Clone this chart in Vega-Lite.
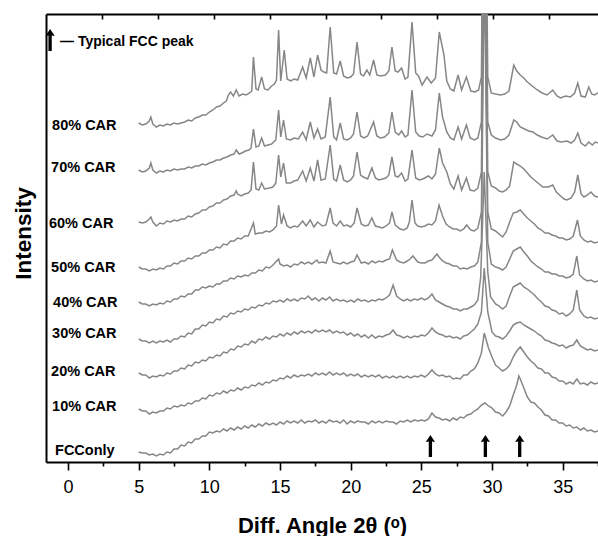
{
"$schema":"https://vega.github.io/schema/vega-lite/v6.json",
"width":552,"height":448,
"autosize":{"type":"none"},
"padding":{"left":46,"top":14,"right":0,"bottom":74},
"background":"white",
"config":{"view":{"stroke":null},"font":"Liberation Sans"},
"datasets":{
"traces":[
{"s":"F","x":5,"y":10},{"s":"F","x":5.25,"y":9},{"s":"F","x":5.5,"y":9},{"s":"F","x":5.75,"y":7},{"s":"F","x":6,"y":8},{"s":"F","x":6.25,"y":6},{"s":"F","x":6.5,"y":8},{"s":"F","x":6.75,"y":7},{"s":"F","x":7,"y":10},{"s":"F","x":7.25,"y":9},{"s":"F","x":7.5,"y":13},{"s":"F","x":7.75,"y":13},{"s":"F","x":8,"y":17},{"s":"F","x":8.25,"y":16},{"s":"F","x":8.5,"y":20},{"s":"F","x":8.75,"y":19},{"s":"F","x":9,"y":23},{"s":"F","x":9.25,"y":23},{"s":"F","x":9.5,"y":26},{"s":"F","x":9.75,"y":26},{"s":"F","x":10,"y":30},{"s":"F","x":10.25,"y":29},{"s":"F","x":10.5,"y":31},{"s":"F","x":10.75,"y":30},{"s":"F","x":11,"y":33},{"s":"F","x":11.25,"y":31},{"s":"F","x":11.5,"y":34},{"s":"F","x":11.75,"y":32},{"s":"F","x":12,"y":35},{"s":"F","x":12.25,"y":33},{"s":"F","x":12.5,"y":36},{"s":"F","x":12.75,"y":34},{"s":"F","x":13,"y":37},{"s":"F","x":13.25,"y":35},{"s":"F","x":13.5,"y":38},{"s":"F","x":13.75,"y":36},{"s":"F","x":14,"y":39},{"s":"F","x":14.25,"y":37},{"s":"F","x":14.5,"y":39},{"s":"F","x":14.75,"y":37},{"s":"F","x":15,"y":40},{"s":"F","x":15.25,"y":38},{"s":"F","x":15.5,"y":41},{"s":"F","x":15.75,"y":39},{"s":"F","x":16,"y":41},{"s":"F","x":16.25,"y":39},{"s":"F","x":16.5,"y":42},{"s":"F","x":16.75,"y":39},{"s":"F","x":17,"y":41},{"s":"F","x":17.25,"y":40},{"s":"F","x":17.5,"y":42},{"s":"F","x":17.75,"y":39},{"s":"F","x":18,"y":41},{"s":"F","x":18.25,"y":39},{"s":"F","x":18.5,"y":42},{"s":"F","x":18.75,"y":40},{"s":"F","x":19,"y":41},{"s":"F","x":19.25,"y":39},{"s":"F","x":19.5,"y":42},{"s":"F","x":19.75,"y":38},{"s":"F","x":20,"y":41},{"s":"F","x":20.25,"y":39},{"s":"F","x":20.5,"y":41},{"s":"F","x":20.75,"y":40},{"s":"F","x":21,"y":40},{"s":"F","x":21.25,"y":38},{"s":"F","x":21.5,"y":41},{"s":"F","x":21.75,"y":39},{"s":"F","x":22,"y":41},{"s":"F","x":22.25,"y":39},{"s":"F","x":22.5,"y":41},{"s":"F","x":22.75,"y":40},{"s":"F","x":23,"y":40},{"s":"F","x":23.25,"y":38},{"s":"F","x":23.5,"y":41},{"s":"F","x":23.75,"y":40},{"s":"F","x":24,"y":42},{"s":"F","x":24.25,"y":40},{"s":"F","x":24.5,"y":42},{"s":"F","x":24.75,"y":41},{"s":"F","x":25,"y":42},{"s":"F","x":25.25,"y":41},{"s":"F","x":25.5,"y":43},{"s":"F","x":25.75,"y":49},{"s":"F","x":26,"y":45},{"s":"F","x":26.25,"y":44},{"s":"F","x":26.5,"y":42},{"s":"F","x":26.75,"y":43},{"s":"F","x":27,"y":41},{"s":"F","x":27.25,"y":44},{"s":"F","x":27.5,"y":42},{"s":"F","x":27.75,"y":45},{"s":"F","x":28,"y":44},{"s":"F","x":28.25,"y":47},{"s":"F","x":28.5,"y":48},{"s":"F","x":28.75,"y":51},{"s":"F","x":29,"y":53},{"s":"F","x":29.25,"y":57},{"s":"F","x":29.5,"y":59},{"s":"F","x":29.75,"y":56},{"s":"F","x":30,"y":54},{"s":"F","x":30.25,"y":50},{"s":"F","x":30.5,"y":49},{"s":"F","x":30.75,"y":46},{"s":"F","x":31,"y":50},{"s":"F","x":31.25,"y":56},{"s":"F","x":31.5,"y":67},{"s":"F","x":31.75,"y":77},{"s":"F","x":31.9,"y":86},{"s":"F","x":32,"y":83},{"s":"F","x":32.25,"y":74},{"s":"F","x":32.5,"y":65},{"s":"F","x":32.75,"y":60},{"s":"F","x":33,"y":59},{"s":"F","x":33.25,"y":55},{"s":"F","x":33.5,"y":52},{"s":"F","x":33.75,"y":47},{"s":"F","x":34,"y":46},{"s":"F","x":34.25,"y":42},{"s":"F","x":34.5,"y":42},{"s":"F","x":34.75,"y":39},{"s":"F","x":35,"y":39},{"s":"F","x":35.25,"y":36},{"s":"F","x":35.5,"y":37},{"s":"F","x":35.75,"y":34},{"s":"F","x":36,"y":35},{"s":"F","x":36.25,"y":32},{"s":"F","x":36.5,"y":34},{"s":"F","x":36.75,"y":31},{"s":"F","x":37,"y":32},{"s":"F","x":37.25,"y":30},{"s":"F","x":37.5,"y":31},

{"s":"10","x":5,"y":53},{"s":"10","x":5.25,"y":51},{"s":"10","x":5.5,"y":51},{"s":"10","x":5.75,"y":48},{"s":"10","x":6,"y":50},{"s":"10","x":6.25,"y":49},{"s":"10","x":6.5,"y":51},{"s":"10","x":6.75,"y":51},{"s":"10","x":7,"y":54},{"s":"10","x":7.25,"y":53},{"s":"10","x":7.5,"y":56},{"s":"10","x":7.75,"y":55},{"s":"10","x":8,"y":57},{"s":"10","x":8.25,"y":56},{"s":"10","x":8.5,"y":59},{"s":"10","x":8.75,"y":58},{"s":"10","x":9,"y":61},{"s":"10","x":9.25,"y":61},{"s":"10","x":9.5,"y":64},{"s":"10","x":9.75,"y":63},{"s":"10","x":10,"y":67},{"s":"10","x":10.25,"y":66},{"s":"10","x":10.5,"y":69},{"s":"10","x":10.75,"y":68},{"s":"10","x":11,"y":71},{"s":"10","x":11.25,"y":69},{"s":"10","x":11.5,"y":72},{"s":"10","x":11.75,"y":71},{"s":"10","x":12,"y":74},{"s":"10","x":12.25,"y":72},{"s":"10","x":12.5,"y":75},{"s":"10","x":12.75,"y":74},{"s":"10","x":13,"y":77},{"s":"10","x":13.25,"y":76},{"s":"10","x":13.5,"y":79},{"s":"10","x":13.75,"y":77},{"s":"10","x":14,"y":80},{"s":"10","x":14.25,"y":79},{"s":"10","x":14.5,"y":82},{"s":"10","x":14.75,"y":81},{"s":"10","x":15,"y":84},{"s":"10","x":15.25,"y":83},{"s":"10","x":15.5,"y":86},{"s":"10","x":15.75,"y":84},{"s":"10","x":16,"y":87},{"s":"10","x":16.25,"y":85},{"s":"10","x":16.5,"y":87},{"s":"10","x":16.75,"y":86},{"s":"10","x":17,"y":88},{"s":"10","x":17.25,"y":86},{"s":"10","x":17.5,"y":89},{"s":"10","x":17.75,"y":87},{"s":"10","x":18,"y":89},{"s":"10","x":18.25,"y":87},{"s":"10","x":18.5,"y":90},{"s":"10","x":18.75,"y":87},{"s":"10","x":19,"y":89},{"s":"10","x":19.25,"y":87},{"s":"10","x":19.5,"y":89},{"s":"10","x":19.75,"y":86},{"s":"10","x":20,"y":88},{"s":"10","x":20.25,"y":86},{"s":"10","x":20.5,"y":88},{"s":"10","x":20.75,"y":85},{"s":"10","x":21,"y":87},{"s":"10","x":21.25,"y":85},{"s":"10","x":21.5,"y":87},{"s":"10","x":21.75,"y":85},{"s":"10","x":22,"y":87},{"s":"10","x":22.25,"y":84},{"s":"10","x":22.5,"y":86},{"s":"10","x":22.75,"y":84},{"s":"10","x":23,"y":86},{"s":"10","x":23.25,"y":84},{"s":"10","x":23.5,"y":86},{"s":"10","x":23.75,"y":84},{"s":"10","x":24,"y":86},{"s":"10","x":24.25,"y":84},{"s":"10","x":24.5,"y":86},{"s":"10","x":24.75,"y":85},{"s":"10","x":25,"y":87},{"s":"10","x":25.25,"y":85},{"s":"10","x":25.5,"y":88},{"s":"10","x":25.75,"y":92},{"s":"10","x":26,"y":88},{"s":"10","x":26.25,"y":86},{"s":"10","x":26.5,"y":87},{"s":"10","x":26.75,"y":85},{"s":"10","x":27,"y":86},{"s":"10","x":27.25,"y":83},{"s":"10","x":27.5,"y":84},{"s":"10","x":27.75,"y":83},{"s":"10","x":28,"y":87},{"s":"10","x":28.25,"y":87},{"s":"10","x":28.5,"y":91},{"s":"10","x":28.75,"y":93},{"s":"10","x":29,"y":99},{"s":"10","x":29.25,"y":109},{"s":"10","x":29.45,"y":129},{"s":"10","x":29.75,"y":114},{"s":"10","x":30,"y":105},{"s":"10","x":30.25,"y":97},{"s":"10","x":30.5,"y":94},{"s":"10","x":30.75,"y":91},{"s":"10","x":31,"y":93},{"s":"10","x":31.25,"y":97},{"s":"10","x":31.5,"y":105},{"s":"10","x":31.75,"y":111},{"s":"10","x":32,"y":115},{"s":"10","x":32.25,"y":110},{"s":"10","x":32.5,"y":105},{"s":"10","x":32.75,"y":101},{"s":"10","x":33,"y":98},{"s":"10","x":33.25,"y":94},{"s":"10","x":33.5,"y":93},{"s":"10","x":33.75,"y":89},{"s":"10","x":34,"y":89},{"s":"10","x":34.25,"y":85},{"s":"10","x":34.5,"y":84},{"s":"10","x":34.75,"y":81},{"s":"10","x":35,"y":81},{"s":"10","x":35.25,"y":78},{"s":"10","x":35.5,"y":80},{"s":"10","x":35.75,"y":78},{"s":"10","x":36,"y":83},{"s":"10","x":36.25,"y":78},{"s":"10","x":36.5,"y":79},{"s":"10","x":36.75,"y":77},{"s":"10","x":37,"y":80},{"s":"10","x":37.25,"y":78},{"s":"10","x":37.5,"y":79},

{"s":"20","x":5,"y":89},{"s":"20","x":5.25,"y":87},{"s":"20","x":5.5,"y":87},{"s":"20","x":5.75,"y":84},{"s":"20","x":6,"y":86},{"s":"20","x":6.25,"y":85},{"s":"20","x":6.5,"y":87},{"s":"20","x":6.75,"y":86},{"s":"20","x":7,"y":89},{"s":"20","x":7.25,"y":88},{"s":"20","x":7.5,"y":91},{"s":"20","x":7.75,"y":91},{"s":"20","x":8,"y":94},{"s":"20","x":8.25,"y":93},{"s":"20","x":8.5,"y":97},{"s":"20","x":8.75,"y":96},{"s":"20","x":9,"y":100},{"s":"20","x":9.25,"y":99},{"s":"20","x":9.5,"y":102},{"s":"20","x":9.75,"y":101},{"s":"20","x":10,"y":105},{"s":"20","x":10.25,"y":104},{"s":"20","x":10.5,"y":107},{"s":"20","x":10.75,"y":106},{"s":"20","x":11,"y":110},{"s":"20","x":11.25,"y":109},{"s":"20","x":11.5,"y":113},{"s":"20","x":11.75,"y":112},{"s":"20","x":12,"y":116},{"s":"20","x":12.25,"y":115},{"s":"20","x":12.5,"y":118},{"s":"20","x":12.75,"y":117},{"s":"20","x":13,"y":121},{"s":"20","x":13.25,"y":119},{"s":"20","x":13.5,"y":123},{"s":"20","x":13.75,"y":122},{"s":"20","x":14,"y":125},{"s":"20","x":14.25,"y":123},{"s":"20","x":14.5,"y":126},{"s":"20","x":14.75,"y":125},{"s":"20","x":15,"y":128},{"s":"20","x":15.25,"y":126},{"s":"20","x":15.5,"y":129},{"s":"20","x":15.75,"y":127},{"s":"20","x":16,"y":130},{"s":"20","x":16.25,"y":128},{"s":"20","x":16.5,"y":131},{"s":"20","x":16.75,"y":129},{"s":"20","x":17,"y":131},{"s":"20","x":17.25,"y":129},{"s":"20","x":17.5,"y":132},{"s":"20","x":17.75,"y":130},{"s":"20","x":18,"y":132},{"s":"20","x":18.25,"y":130},{"s":"20","x":18.5,"y":132},{"s":"20","x":18.75,"y":129},{"s":"20","x":19,"y":131},{"s":"20","x":19.25,"y":129},{"s":"20","x":19.5,"y":130},{"s":"20","x":19.75,"y":127},{"s":"20","x":20,"y":129},{"s":"20","x":20.25,"y":126},{"s":"20","x":20.5,"y":128},{"s":"20","x":20.75,"y":125},{"s":"20","x":21,"y":127},{"s":"20","x":21.25,"y":124},{"s":"20","x":21.5,"y":127},{"s":"20","x":21.75,"y":124},{"s":"20","x":22,"y":126},{"s":"20","x":22.25,"y":125},{"s":"20","x":22.5,"y":127},{"s":"20","x":22.75,"y":128},{"s":"20","x":23,"y":132},{"s":"20","x":23.25,"y":127},{"s":"20","x":23.5,"y":126},{"s":"20","x":23.75,"y":124},{"s":"20","x":24,"y":126},{"s":"20","x":24.25,"y":124},{"s":"20","x":24.5,"y":126},{"s":"20","x":24.75,"y":125},{"s":"20","x":25,"y":127},{"s":"20","x":25.25,"y":126},{"s":"20","x":25.5,"y":129},{"s":"20","x":25.75,"y":134},{"s":"20","x":26,"y":130},{"s":"20","x":26.25,"y":128},{"s":"20","x":26.5,"y":127},{"s":"20","x":26.75,"y":125},{"s":"20","x":27,"y":126},{"s":"20","x":27.25,"y":124},{"s":"20","x":27.5,"y":125},{"s":"20","x":27.75,"y":123},{"s":"20","x":28,"y":126},{"s":"20","x":28.25,"y":127},{"s":"20","x":28.5,"y":130},{"s":"20","x":28.75,"y":133},{"s":"20","x":29,"y":138},{"s":"20","x":29.25,"y":150},{"s":"20","x":29.45,"y":194},{"s":"20","x":29.7,"y":150},{"s":"20","x":30,"y":130},{"s":"20","x":30.25,"y":126},{"s":"20","x":30.5,"y":125},{"s":"20","x":30.75,"y":123},{"s":"20","x":31,"y":126},{"s":"20","x":31.25,"y":131},{"s":"20","x":31.5,"y":137},{"s":"20","x":31.75,"y":139},{"s":"20","x":32,"y":140},{"s":"20","x":32.25,"y":137},{"s":"20","x":32.5,"y":135},{"s":"20","x":32.75,"y":133},{"s":"20","x":33,"y":131},{"s":"20","x":33.25,"y":128},{"s":"20","x":33.5,"y":126},{"s":"20","x":33.75,"y":122},{"s":"20","x":34,"y":121},{"s":"20","x":34.25,"y":119},{"s":"20","x":34.5,"y":118},{"s":"20","x":34.75,"y":116},{"s":"20","x":35,"y":117},{"s":"20","x":35.25,"y":114},{"s":"20","x":35.5,"y":116},{"s":"20","x":35.75,"y":117},{"s":"20","x":36,"y":122},{"s":"20","x":36.25,"y":116},{"s":"20","x":36.5,"y":114},{"s":"20","x":36.75,"y":112},{"s":"20","x":37,"y":113},{"s":"20","x":37.25,"y":111},{"s":"20","x":37.5,"y":112},

{"s":"30","x":5,"y":123},{"s":"30","x":5.25,"y":121},{"s":"30","x":5.5,"y":121},{"s":"30","x":5.75,"y":119},{"s":"30","x":6,"y":121},{"s":"30","x":6.25,"y":119},{"s":"30","x":6.5,"y":121},{"s":"30","x":6.75,"y":120},{"s":"30","x":7,"y":122},{"s":"30","x":7.25,"y":120},{"s":"30","x":7.5,"y":123},{"s":"30","x":7.75,"y":123},{"s":"30","x":8,"y":126},{"s":"30","x":8.25,"y":125},{"s":"30","x":8.5,"y":129},{"s":"30","x":8.75,"y":128},{"s":"30","x":9,"y":133},{"s":"30","x":9.25,"y":133},{"s":"30","x":9.5,"y":137},{"s":"30","x":9.75,"y":136},{"s":"30","x":10,"y":140},{"s":"30","x":10.25,"y":139},{"s":"30","x":10.5,"y":143},{"s":"30","x":10.75,"y":142},{"s":"30","x":11,"y":146},{"s":"30","x":11.25,"y":145},{"s":"30","x":11.5,"y":149},{"s":"30","x":11.75,"y":148},{"s":"30","x":12,"y":151},{"s":"30","x":12.25,"y":150},{"s":"30","x":12.5,"y":153},{"s":"30","x":12.75,"y":152},{"s":"30","x":13,"y":155},{"s":"30","x":13.25,"y":154},{"s":"30","x":13.5,"y":157},{"s":"30","x":13.75,"y":156},{"s":"30","x":14,"y":159},{"s":"30","x":14.25,"y":158},{"s":"30","x":14.5,"y":161},{"s":"30","x":14.75,"y":160},{"s":"30","x":15,"y":162},{"s":"30","x":15.25,"y":160},{"s":"30","x":15.5,"y":163},{"s":"30","x":15.75,"y":161},{"s":"30","x":16,"y":163},{"s":"30","x":16.25,"y":161},{"s":"30","x":16.5,"y":164},{"s":"30","x":16.75,"y":163},{"s":"30","x":17,"y":166},{"s":"30","x":17.25,"y":162},{"s":"30","x":17.5,"y":164},{"s":"30","x":17.75,"y":161},{"s":"30","x":18,"y":164},{"s":"30","x":18.25,"y":162},{"s":"30","x":18.5,"y":165},{"s":"30","x":18.75,"y":161},{"s":"30","x":19,"y":163},{"s":"30","x":19.25,"y":161},{"s":"30","x":19.5,"y":162},{"s":"30","x":19.75,"y":160},{"s":"30","x":20,"y":162},{"s":"30","x":20.25,"y":160},{"s":"30","x":20.5,"y":163},{"s":"30","x":20.75,"y":161},{"s":"30","x":21,"y":162},{"s":"30","x":21.25,"y":160},{"s":"30","x":21.5,"y":162},{"s":"30","x":21.75,"y":161},{"s":"30","x":22,"y":163},{"s":"30","x":22.25,"y":162},{"s":"30","x":22.5,"y":164},{"s":"30","x":22.75,"y":167},{"s":"30","x":23,"y":177},{"s":"30","x":23.25,"y":166},{"s":"30","x":23.5,"y":163},{"s":"30","x":23.75,"y":161},{"s":"30","x":24,"y":163},{"s":"30","x":24.25,"y":161},{"s":"30","x":24.5,"y":163},{"s":"30","x":24.75,"y":162},{"s":"30","x":25,"y":164},{"s":"30","x":25.25,"y":162},{"s":"30","x":25.5,"y":164},{"s":"30","x":25.75,"y":168},{"s":"30","x":26,"y":162},{"s":"30","x":26.25,"y":160},{"s":"30","x":26.5,"y":158},{"s":"30","x":26.75,"y":156},{"s":"30","x":27,"y":155},{"s":"30","x":27.25,"y":153},{"s":"30","x":27.5,"y":153},{"s":"30","x":27.75,"y":151},{"s":"30","x":28,"y":153},{"s":"30","x":28.25,"y":153},{"s":"30","x":28.5,"y":155},{"s":"30","x":28.75,"y":157},{"s":"30","x":29,"y":162},{"s":"30","x":29.2,"y":185},{"s":"30","x":29.45,"y":290},{"s":"30","x":29.7,"y":190},{"s":"30","x":29.9,"y":165},{"s":"30","x":30.25,"y":158},{"s":"30","x":30.5,"y":156},{"s":"30","x":30.75,"y":153},{"s":"30","x":31,"y":156},{"s":"30","x":31.25,"y":166},{"s":"30","x":31.5,"y":175},{"s":"30","x":31.75,"y":177},{"s":"30","x":32,"y":179},{"s":"30","x":32.25,"y":175},{"s":"30","x":32.5,"y":173},{"s":"30","x":32.75,"y":170},{"s":"30","x":33,"y":167},{"s":"30","x":33.25,"y":163},{"s":"30","x":33.5,"y":160},{"s":"30","x":33.75,"y":156},{"s":"30","x":34,"y":155},{"s":"30","x":34.25,"y":152},{"s":"30","x":34.5,"y":151},{"s":"30","x":34.75,"y":148},{"s":"30","x":35,"y":149},{"s":"30","x":35.25,"y":146},{"s":"30","x":35.5,"y":148},{"s":"30","x":35.75,"y":152},{"s":"30","x":36,"y":172},{"s":"30","x":36.2,"y":152},{"s":"30","x":36.5,"y":146},{"s":"30","x":36.75,"y":144},{"s":"30","x":37,"y":145},{"s":"30","x":37.25,"y":143},{"s":"30","x":37.5,"y":144},

{"s":"40","x":5,"y":160},{"s":"40","x":5.25,"y":158},{"s":"40","x":5.5,"y":158},{"s":"40","x":5.75,"y":156},{"s":"40","x":6,"y":158},{"s":"40","x":6.25,"y":157},{"s":"40","x":6.5,"y":159},{"s":"40","x":6.75,"y":158},{"s":"40","x":7,"y":161},{"s":"40","x":7.25,"y":160},{"s":"40","x":7.5,"y":163},{"s":"40","x":7.75,"y":163},{"s":"40","x":8,"y":166},{"s":"40","x":8.25,"y":165},{"s":"40","x":8.5,"y":168},{"s":"40","x":8.75,"y":168},{"s":"40","x":9,"y":172},{"s":"40","x":9.25,"y":172},{"s":"40","x":9.5,"y":175},{"s":"40","x":9.75,"y":174},{"s":"40","x":10,"y":176},{"s":"40","x":10.25,"y":175},{"s":"40","x":10.5,"y":178},{"s":"40","x":10.75,"y":178},{"s":"40","x":11,"y":181},{"s":"40","x":11.25,"y":181},{"s":"40","x":11.5,"y":184},{"s":"40","x":11.75,"y":183},{"s":"40","x":12,"y":186},{"s":"40","x":12.25,"y":185},{"s":"40","x":12.5,"y":187},{"s":"40","x":12.75,"y":186},{"s":"40","x":13,"y":189},{"s":"40","x":13.25,"y":189},{"s":"40","x":13.5,"y":192},{"s":"40","x":13.75,"y":191},{"s":"40","x":14,"y":195},{"s":"40","x":14.25,"y":194},{"s":"40","x":14.5,"y":197},{"s":"40","x":14.9,"y":203},{"s":"40","x":15,"y":198},{"s":"40","x":15.25,"y":196},{"s":"40","x":15.5,"y":197},{"s":"40","x":15.75,"y":195},{"s":"40","x":16,"y":198},{"s":"40","x":16.25,"y":197},{"s":"40","x":16.5,"y":200},{"s":"40","x":16.75,"y":198},{"s":"40","x":17,"y":200},{"s":"40","x":17.25,"y":198},{"s":"40","x":17.6,"y":202},{"s":"40","x":17.75,"y":199},{"s":"40","x":18,"y":200},{"s":"40","x":18.25,"y":199},{"s":"40","x":18.55,"y":211},{"s":"40","x":18.75,"y":200},{"s":"40","x":19,"y":199},{"s":"40","x":19.25,"y":198},{"s":"40","x":19.5,"y":200},{"s":"40","x":19.75,"y":198},{"s":"40","x":20,"y":200},{"s":"40","x":20.25,"y":201},{"s":"40","x":20.45,"y":207},{"s":"40","x":20.75,"y":199},{"s":"40","x":21,"y":200},{"s":"40","x":21.25,"y":198},{"s":"40","x":21.5,"y":201},{"s":"40","x":21.75,"y":199},{"s":"40","x":22,"y":201},{"s":"40","x":22.25,"y":200},{"s":"40","x":22.5,"y":202},{"s":"40","x":22.75,"y":203},{"s":"40","x":22.95,"y":212},{"s":"40","x":23.25,"y":202},{"s":"40","x":23.5,"y":200},{"s":"40","x":23.75,"y":199},{"s":"40","x":24,"y":201},{"s":"40","x":24.2,"y":203},{"s":"40","x":24.4,"y":206},{"s":"40","x":24.75,"y":200},{"s":"40","x":25,"y":199},{"s":"40","x":25.25,"y":199},{"s":"40","x":25.5,"y":201},{"s":"40","x":25.75,"y":202},{"s":"40","x":26.1,"y":208},{"s":"40","x":26.25,"y":205},{"s":"40","x":26.5,"y":201},{"s":"40","x":26.75,"y":199},{"s":"40","x":27,"y":198},{"s":"40","x":27.25,"y":196},{"s":"40","x":27.5,"y":196},{"s":"40","x":27.75,"y":193},{"s":"40","x":28,"y":194},{"s":"40","x":28.25,"y":193},{"s":"40","x":28.5,"y":195},{"s":"40","x":28.75,"y":196},{"s":"40","x":29,"y":200},{"s":"40","x":29.25,"y":220},{"s":"40","x":29.45,"y":500},{"s":"40","x":29.7,"y":220},{"s":"40","x":29.95,"y":198},{"s":"40","x":30.25,"y":195},{"s":"40","x":30.5,"y":194},{"s":"40","x":30.75,"y":192},{"s":"40","x":31,"y":195},{"s":"40","x":31.25,"y":203},{"s":"40","x":31.5,"y":211},{"s":"40","x":31.75,"y":213},{"s":"40","x":32,"y":215},{"s":"40","x":32.25,"y":210},{"s":"40","x":32.5,"y":206},{"s":"40","x":32.75,"y":201},{"s":"40","x":33,"y":198},{"s":"40","x":33.25,"y":195},{"s":"40","x":33.5,"y":193},{"s":"40","x":33.75,"y":190},{"s":"40","x":34,"y":190},{"s":"40","x":34.25,"y":188},{"s":"40","x":34.5,"y":188},{"s":"40","x":34.75,"y":186},{"s":"40","x":35,"y":186},{"s":"40","x":35.25,"y":184},{"s":"40","x":35.5,"y":185},{"s":"40","x":35.75,"y":188},{"s":"40","x":36,"y":206},{"s":"40","x":36.2,"y":187},{"s":"40","x":36.5,"y":183},{"s":"40","x":36.75,"y":181},{"s":"40","x":37,"y":182},{"s":"40","x":37.25,"y":180},{"s":"40","x":37.5,"y":181},

{"s":"50","x":5,"y":195},{"s":"50","x":5.25,"y":193},{"s":"50","x":5.5,"y":193},{"s":"50","x":5.75,"y":191},{"s":"50","x":6,"y":193},{"s":"50","x":6.25,"y":192},{"s":"50","x":6.5,"y":194},{"s":"50","x":6.75,"y":193},{"s":"50","x":7,"y":196},{"s":"50","x":7.25,"y":196},{"s":"50","x":7.5,"y":199},{"s":"50","x":7.75,"y":198},{"s":"50","x":8,"y":201},{"s":"50","x":8.25,"y":201},{"s":"50","x":8.5,"y":204},{"s":"50","x":8.75,"y":203},{"s":"50","x":9,"y":206},{"s":"50","x":9.25,"y":206},{"s":"50","x":9.5,"y":209},{"s":"50","x":9.75,"y":209},{"s":"50","x":10,"y":212},{"s":"50","x":10.25,"y":212},{"s":"50","x":10.5,"y":215},{"s":"50","x":10.75,"y":214},{"s":"50","x":11,"y":218},{"s":"50","x":11.25,"y":217},{"s":"50","x":11.5,"y":221},{"s":"50","x":11.75,"y":221},{"s":"50","x":12,"y":224},{"s":"50","x":12.25,"y":223},{"s":"50","x":12.5,"y":226},{"s":"50","x":12.75,"y":226},{"s":"50","x":13.12,"y":239},{"s":"50","x":13.25,"y":228},{"s":"50","x":13.5,"y":229},{"s":"50","x":13.75,"y":229},{"s":"50","x":14,"y":231},{"s":"50","x":14.25,"y":230},{"s":"50","x":14.5,"y":232},{"s":"50","x":14.75,"y":236},{"s":"50","x":14.9,"y":257},{"s":"50","x":15.1,"y":238},{"s":"50","x":15.25,"y":247},{"s":"50","x":15.5,"y":236},{"s":"50","x":15.75,"y":234},{"s":"50","x":16,"y":236},{"s":"50","x":16.25,"y":235},{"s":"50","x":16.6,"y":241},{"s":"50","x":16.85,"y":236},{"s":"50","x":17.14,"y":242},{"s":"50","x":17.4,"y":235},{"s":"50","x":17.66,"y":240},{"s":"50","x":18,"y":236},{"s":"50","x":18.25,"y":237},{"s":"50","x":18.55,"y":254},{"s":"50","x":18.75,"y":239},{"s":"50","x":19,"y":236},{"s":"50","x":19.26,"y":241},{"s":"50","x":19.5,"y":236},{"s":"50","x":19.75,"y":237},{"s":"50","x":20,"y":235},{"s":"50","x":20.25,"y":239},{"s":"50","x":20.45,"y":254},{"s":"50","x":20.75,"y":238},{"s":"50","x":21,"y":236},{"s":"50","x":21.25,"y":237},{"s":"50","x":21.5,"y":244},{"s":"50","x":21.75,"y":236},{"s":"50","x":22,"y":235},{"s":"50","x":22.25,"y":234},{"s":"50","x":22.5,"y":236},{"s":"50","x":22.75,"y":239},{"s":"50","x":22.92,"y":250},{"s":"50","x":23.15,"y":237},{"s":"50","x":23.5,"y":233},{"s":"50","x":23.75,"y":232},{"s":"50","x":24,"y":234},{"s":"50","x":24.15,"y":240},{"s":"50","x":24.34,"y":262},{"s":"50","x":24.55,"y":239},{"s":"50","x":24.75,"y":236},{"s":"50","x":25,"y":235},{"s":"50","x":25.25,"y":236},{"s":"50","x":25.5,"y":238},{"s":"50","x":25.75,"y":237},{"s":"50","x":26,"y":241},{"s":"50","x":26.25,"y":257},{"s":"50","x":26.5,"y":246},{"s":"50","x":26.75,"y":238},{"s":"50","x":27,"y":235},{"s":"50","x":27.25,"y":233},{"s":"50","x":27.5,"y":233},{"s":"50","x":27.75,"y":231},{"s":"50","x":28,"y":233},{"s":"50","x":28.2,"y":237},{"s":"50","x":28.5,"y":232},{"s":"50","x":28.75,"y":231},{"s":"50","x":29,"y":234},{"s":"50","x":29.25,"y":250},{"s":"50","x":29.45,"y":560},{"s":"50","x":29.7,"y":250},{"s":"50","x":29.95,"y":233},{"s":"50","x":30.25,"y":231},{"s":"50","x":30.5,"y":228},{"s":"50","x":30.75,"y":225},{"s":"50","x":31,"y":230},{"s":"50","x":31.25,"y":240},{"s":"50","x":31.5,"y":249},{"s":"50","x":31.75,"y":250},{"s":"50","x":32,"y":252},{"s":"50","x":32.25,"y":248},{"s":"50","x":32.5,"y":244},{"s":"50","x":32.75,"y":241},{"s":"50","x":33,"y":238},{"s":"50","x":33.25,"y":234},{"s":"50","x":33.5,"y":232},{"s":"50","x":33.75,"y":229},{"s":"50","x":34,"y":229},{"s":"50","x":34.25,"y":227},{"s":"50","x":34.5,"y":226},{"s":"50","x":34.75,"y":224},{"s":"50","x":35,"y":224},{"s":"50","x":35.25,"y":222},{"s":"50","x":35.5,"y":223},{"s":"50","x":35.75,"y":226},{"s":"50","x":36.05,"y":242},{"s":"50","x":36.25,"y":226},{"s":"50","x":36.5,"y":222},{"s":"50","x":36.75,"y":220},{"s":"50","x":37,"y":221},{"s":"50","x":37.25,"y":219},{"s":"50","x":37.5,"y":220},

{"s":"60","x":5,"y":240},{"s":"60","x":5.25,"y":239},{"s":"60","x":5.5,"y":240},{"s":"60","x":5.75,"y":243},{"s":"60","x":5.86,"y":245},{"s":"60","x":6,"y":240},{"s":"60","x":6.25,"y":236},{"s":"60","x":6.5,"y":239},{"s":"60","x":6.75,"y":238},{"s":"60","x":7,"y":241},{"s":"60","x":7.25,"y":240},{"s":"60","x":7.5,"y":242},{"s":"60","x":7.75,"y":241},{"s":"60","x":8,"y":243},{"s":"60","x":8.25,"y":243},{"s":"60","x":8.5,"y":246},{"s":"60","x":8.75,"y":245},{"s":"60","x":9,"y":248},{"s":"60","x":9.25,"y":249},{"s":"60","x":9.5,"y":252},{"s":"60","x":9.75,"y":252},{"s":"60","x":10,"y":255},{"s":"60","x":10.25,"y":256},{"s":"60","x":10.5,"y":259},{"s":"60","x":10.75,"y":259},{"s":"60","x":11,"y":262},{"s":"60","x":11.25,"y":263},{"s":"60","x":11.5,"y":266},{"s":"60","x":11.75,"y":267},{"s":"60","x":11.9,"y":271},{"s":"60","x":12,"y":268},{"s":"60","x":12.25,"y":266},{"s":"60","x":12.5,"y":268},{"s":"60","x":12.75,"y":269},{"s":"60","x":12.95,"y":272},{"s":"60","x":13.12,"y":300},{"s":"60","x":13.3,"y":273},{"s":"60","x":13.5,"y":272},{"s":"60","x":13.7,"y":279},{"s":"60","x":13.9,"y":273},{"s":"60","x":14.25,"y":274},{"s":"60","x":14.5,"y":275},{"s":"60","x":14.7,"y":279},{"s":"60","x":14.9,"y":307},{"s":"60","x":15.05,"y":285},{"s":"60","x":15.25,"y":299},{"s":"60","x":15.45,"y":279},{"s":"60","x":15.75,"y":279},{"s":"60","x":16,"y":281},{"s":"60","x":16.25,"y":282},{"s":"60","x":16.6,"y":291},{"s":"60","x":16.85,"y":281},{"s":"60","x":17.14,"y":294},{"s":"60","x":17.4,"y":281},{"s":"60","x":17.66,"y":302},{"s":"60","x":17.9,"y":282},{"s":"60","x":18.2,"y":283},{"s":"60","x":18.55,"y":317},{"s":"60","x":18.8,"y":283},{"s":"60","x":19,"y":281},{"s":"60","x":19.26,"y":297},{"s":"60","x":19.5,"y":282},{"s":"60","x":19.75,"y":280},{"s":"60","x":20,"y":282},{"s":"60","x":20.2,"y":286},{"s":"60","x":20.45,"y":310},{"s":"60","x":20.7,"y":287},{"s":"60","x":20.9,"y":285},{"s":"60","x":21.2,"y":283},{"s":"60","x":21.5,"y":294},{"s":"60","x":21.75,"y":284},{"s":"60","x":22,"y":282},{"s":"60","x":22.25,"y":283},{"s":"60","x":22.5,"y":284},{"s":"60","x":22.7,"y":287},{"s":"60","x":22.92,"y":305},{"s":"60","x":23.15,"y":286},{"s":"60","x":23.35,"y":285},{"s":"60","x":23.6,"y":289},{"s":"60","x":23.85,"y":281},{"s":"60","x":24.05,"y":283},{"s":"60","x":24.34,"y":312},{"s":"60","x":24.6,"y":284},{"s":"60","x":24.85,"y":282},{"s":"60","x":25.1,"y":283},{"s":"60","x":25.5,"y":286},{"s":"60","x":25.75,"y":283},{"s":"60","x":26,"y":288},{"s":"60","x":26.27,"y":314},{"s":"60","x":26.5,"y":299},{"s":"60","x":26.8,"y":290},{"s":"60","x":27.05,"y":278},{"s":"60","x":27.3,"y":273},{"s":"60","x":27.6,"y":286},{"s":"60","x":27.85,"y":272},{"s":"60","x":28.19,"y":284},{"s":"60","x":28.45,"y":272},{"s":"60","x":28.75,"y":271},{"s":"60","x":29,"y":274},{"s":"60","x":29.25,"y":290},{"s":"60","x":29.45,"y":620},{"s":"60","x":29.7,"y":290},{"s":"60","x":29.95,"y":276},{"s":"60","x":30.25,"y":274},{"s":"60","x":30.5,"y":271},{"s":"60","x":30.75,"y":270},{"s":"60","x":31,"y":272},{"s":"60","x":31.25,"y":276},{"s":"60","x":31.54,"y":300},{"s":"60","x":31.75,"y":298},{"s":"60","x":32,"y":296},{"s":"60","x":32.25,"y":293},{"s":"60","x":32.5,"y":289},{"s":"60","x":32.75,"y":285},{"s":"60","x":33,"y":282},{"s":"60","x":33.25,"y":279},{"s":"60","x":33.6,"y":275},{"s":"60","x":34,"y":275},{"s":"60","x":34.3,"y":277},{"s":"60","x":34.55,"y":270},{"s":"60","x":34.85,"y":266},{"s":"60","x":35.1,"y":263},{"s":"60","x":35.3,"y":262},{"s":"60","x":35.6,"y":264},{"s":"60","x":35.85,"y":270},{"s":"60","x":36.07,"y":287},{"s":"60","x":36.3,"y":268},{"s":"60","x":36.5,"y":265},{"s":"60","x":36.75,"y":267},{"s":"60","x":37,"y":270},{"s":"60","x":37.25,"y":266},{"s":"60","x":37.5,"y":265},

{"s":"70","x":5,"y":292},{"s":"70","x":5.25,"y":290},{"s":"70","x":5.5,"y":291},{"s":"70","x":5.75,"y":294},{"s":"70","x":5.86,"y":299},{"s":"70","x":6,"y":292},{"s":"70","x":6.25,"y":289},{"s":"70","x":6.5,"y":291},{"s":"70","x":6.75,"y":290},{"s":"70","x":7,"y":292},{"s":"70","x":7.25,"y":291},{"s":"70","x":7.5,"y":293},{"s":"70","x":7.75,"y":292},{"s":"70","x":8,"y":293},{"s":"70","x":8.25,"y":293},{"s":"70","x":8.5,"y":295},{"s":"70","x":8.75,"y":294},{"s":"70","x":9,"y":296},{"s":"70","x":9.25,"y":296},{"s":"70","x":9.5,"y":298},{"s":"70","x":9.75,"y":297},{"s":"70","x":10,"y":299},{"s":"70","x":10.25,"y":300},{"s":"70","x":10.5,"y":302},{"s":"70","x":10.75,"y":302},{"s":"70","x":11,"y":304},{"s":"70","x":11.25,"y":305},{"s":"70","x":11.5,"y":307},{"s":"70","x":11.75,"y":308},{"s":"70","x":11.9,"y":312},{"s":"70","x":12.1,"y":308},{"s":"70","x":12.3,"y":309},{"s":"70","x":12.55,"y":311},{"s":"70","x":12.8,"y":312},{"s":"70","x":12.95,"y":314},{"s":"70","x":13.12,"y":333},{"s":"70","x":13.3,"y":315},{"s":"70","x":13.5,"y":316},{"s":"70","x":13.7,"y":324},{"s":"70","x":13.9,"y":316},{"s":"70","x":14.15,"y":317},{"s":"70","x":14.4,"y":318},{"s":"70","x":14.7,"y":322},{"s":"70","x":14.9,"y":352},{"s":"70","x":15.05,"y":325},{"s":"70","x":15.25,"y":342},{"s":"70","x":15.45,"y":323},{"s":"70","x":15.75,"y":322},{"s":"70","x":16,"y":324},{"s":"70","x":16.3,"y":323},{"s":"70","x":16.6,"y":330},{"s":"70","x":16.85,"y":322},{"s":"70","x":17.14,"y":340},{"s":"70","x":17.4,"y":324},{"s":"70","x":17.66,"y":333},{"s":"70","x":17.9,"y":323},{"s":"70","x":18.2,"y":325},{"s":"70","x":18.55,"y":365},{"s":"70","x":18.8,"y":325},{"s":"70","x":19,"y":322},{"s":"70","x":19.26,"y":339},{"s":"70","x":19.5,"y":323},{"s":"70","x":19.75,"y":322},{"s":"70","x":20,"y":324},{"s":"70","x":20.2,"y":328},{"s":"70","x":20.45,"y":350},{"s":"70","x":20.7,"y":326},{"s":"70","x":20.95,"y":324},{"s":"70","x":21.2,"y":326},{"s":"70","x":21.62,"y":340},{"s":"70","x":21.85,"y":326},{"s":"70","x":22.1,"y":324},{"s":"70","x":22.4,"y":325},{"s":"70","x":22.7,"y":329},{"s":"70","x":22.92,"y":350},{"s":"70","x":23.15,"y":330},{"s":"70","x":23.4,"y":327},{"s":"70","x":23.6,"y":331},{"s":"70","x":23.85,"y":325},{"s":"70","x":24.05,"y":327},{"s":"70","x":24.34,"y":372},{"s":"70","x":24.6,"y":330},{"s":"70","x":24.85,"y":326},{"s":"70","x":25.1,"y":325},{"s":"70","x":25.4,"y":328},{"s":"70","x":25.75,"y":326},{"s":"70","x":26,"y":332},{"s":"70","x":26.27,"y":369},{"s":"70","x":26.5,"y":345},{"s":"70","x":26.8,"y":330},{"s":"70","x":27.05,"y":324},{"s":"70","x":27.3,"y":322},{"s":"70","x":27.6,"y":335},{"s":"70","x":27.85,"y":323},{"s":"70","x":28.19,"y":337},{"s":"70","x":28.45,"y":324},{"s":"70","x":28.75,"y":322},{"s":"70","x":29,"y":324},{"s":"70","x":29.25,"y":340},{"s":"70","x":29.45,"y":680},{"s":"70","x":29.7,"y":340},{"s":"70","x":29.95,"y":327},{"s":"70","x":30.25,"y":324},{"s":"70","x":30.6,"y":322},{"s":"70","x":30.9,"y":323},{"s":"70","x":31.2,"y":327},{"s":"70","x":31.54,"y":342},{"s":"70","x":31.75,"y":340},{"s":"70","x":32,"y":335},{"s":"70","x":32.3,"y":333},{"s":"70","x":32.6,"y":331},{"s":"70","x":32.9,"y":330},{"s":"70","x":33.2,"y":327},{"s":"70","x":33.5,"y":325},{"s":"70","x":33.9,"y":323},{"s":"70","x":34.3,"y":327},{"s":"70","x":34.6,"y":321},{"s":"70","x":34.9,"y":320},{"s":"70","x":35.3,"y":321},{"s":"70","x":35.6,"y":319},{"s":"70","x":35.85,"y":322},{"s":"70","x":36.07,"y":329},{"s":"70","x":36.3,"y":319},{"s":"70","x":36.6,"y":316},{"s":"70","x":36.85,"y":320},{"s":"70","x":37.1,"y":317},{"s":"70","x":37.3,"y":320},{"s":"70","x":37.5,"y":319},

{"s":"80","x":5,"y":339},{"s":"80","x":5.25,"y":337},{"s":"80","x":5.5,"y":338},{"s":"80","x":5.75,"y":341},{"s":"80","x":5.86,"y":345},{"s":"80","x":6,"y":338},{"s":"80","x":6.25,"y":335},{"s":"80","x":6.5,"y":337},{"s":"80","x":6.75,"y":336},{"s":"80","x":7,"y":338},{"s":"80","x":7.25,"y":337},{"s":"80","x":7.5,"y":339},{"s":"80","x":7.75,"y":338},{"s":"80","x":8,"y":339},{"s":"80","x":8.25,"y":340},{"s":"80","x":8.5,"y":342},{"s":"80","x":8.75,"y":341},{"s":"80","x":9,"y":344},{"s":"80","x":9.25,"y":345},{"s":"80","x":9.5,"y":347},{"s":"80","x":9.75,"y":347},{"s":"80","x":10,"y":350},{"s":"80","x":10.25,"y":352},{"s":"80","x":10.5,"y":355},{"s":"80","x":10.75,"y":356},{"s":"80","x":11,"y":359},{"s":"80","x":11.2,"y":361},{"s":"80","x":11.35,"y":367},{"s":"80","x":11.5,"y":370},{"s":"80","x":11.7,"y":366},{"s":"80","x":11.9,"y":372},{"s":"80","x":12.1,"y":366},{"s":"80","x":12.35,"y":368},{"s":"80","x":12.6,"y":367},{"s":"80","x":12.85,"y":369},{"s":"80","x":13,"y":371},{"s":"80","x":13.12,"y":405},{"s":"80","x":13.3,"y":373},{"s":"80","x":13.45,"y":372},{"s":"80","x":13.7,"y":385},{"s":"80","x":13.9,"y":373},{"s":"80","x":14.15,"y":372},{"s":"80","x":14.4,"y":376},{"s":"80","x":14.6,"y":378},{"s":"80","x":14.75,"y":382},{"s":"80","x":14.9,"y":432},{"s":"80","x":15.05,"y":381},{"s":"80","x":15.3,"y":412},{"s":"80","x":15.5,"y":383},{"s":"80","x":15.75,"y":381},{"s":"80","x":16,"y":383},{"s":"80","x":16.25,"y":382},{"s":"80","x":16.6,"y":395},{"s":"80","x":16.85,"y":384},{"s":"80","x":17.14,"y":404},{"s":"80","x":17.4,"y":385},{"s":"80","x":17.66,"y":407},{"s":"80","x":17.9,"y":392},{"s":"80","x":18.1,"y":390},{"s":"80","x":18.3,"y":389},{"s":"80","x":18.55,"y":435},{"s":"80","x":18.8,"y":389},{"s":"80","x":19,"y":388},{"s":"80","x":19.26,"y":401},{"s":"80","x":19.5,"y":386},{"s":"80","x":19.75,"y":384},{"s":"80","x":20,"y":385},{"s":"80","x":20.2,"y":388},{"s":"80","x":20.45,"y":420},{"s":"80","x":20.7,"y":388},{"s":"80","x":20.9,"y":386},{"s":"80","x":21.15,"y":392},{"s":"80","x":21.35,"y":387},{"s":"80","x":21.62,"y":402},{"s":"80","x":21.85,"y":387},{"s":"80","x":22.1,"y":386},{"s":"80","x":22.45,"y":387},{"s":"80","x":22.7,"y":391},{"s":"80","x":22.92,"y":415},{"s":"80","x":23.15,"y":391},{"s":"80","x":23.35,"y":390},{"s":"80","x":23.6,"y":394},{"s":"80","x":23.85,"y":383},{"s":"80","x":24.05,"y":385},{"s":"80","x":24.34,"y":440},{"s":"80","x":24.6,"y":389},{"s":"80","x":24.8,"y":386},{"s":"80","x":25.05,"y":377},{"s":"80","x":25.4,"y":385},{"s":"80","x":25.7,"y":379},{"s":"80","x":26,"y":384},{"s":"80","x":26.27,"y":430},{"s":"80","x":26.6,"y":407},{"s":"80","x":26.8,"y":381},{"s":"80","x":27.05,"y":373},{"s":"80","x":27.3,"y":371},{"s":"80","x":27.6,"y":387},{"s":"80","x":27.85,"y":372},{"s":"80","x":28.19,"y":385},{"s":"80","x":28.5,"y":371},{"s":"80","x":28.8,"y":370},{"s":"80","x":29.05,"y":372},{"s":"80","x":29.25,"y":385},{"s":"80","x":29.45,"y":740},{"s":"80","x":29.7,"y":385},{"s":"80","x":29.95,"y":369},{"s":"80","x":30.25,"y":368},{"s":"80","x":30.6,"y":367},{"s":"80","x":30.9,"y":368},{"s":"80","x":31.2,"y":371},{"s":"80","x":31.54,"y":397},{"s":"80","x":31.75,"y":391},{"s":"80","x":32,"y":387},{"s":"80","x":32.25,"y":384},{"s":"80","x":32.5,"y":380},{"s":"80","x":32.85,"y":376},{"s":"80","x":33.2,"y":372},{"s":"80","x":33.55,"y":369},{"s":"80","x":33.9,"y":367},{"s":"80","x":34.3,"y":372},{"s":"80","x":34.6,"y":366},{"s":"80","x":34.85,"y":364},{"s":"80","x":35.2,"y":366},{"s":"80","x":35.55,"y":365},{"s":"80","x":35.85,"y":369},{"s":"80","x":36.07,"y":379},{"s":"80","x":36.3,"y":366},{"s":"80","x":36.6,"y":365},{"s":"80","x":36.85,"y":375},{"s":"80","x":37.05,"y":368},{"s":"80","x":37.25,"y":367},{"s":"80","x":37.5,"y":369}
],
"labels":[
{"t":"80% CAR","x":-1.13,"y":336,"f":14.5},
{"t":"70% CAR","x":-1.2,"y":294.5,"f":14.5},
{"t":"60% CAR","x":-1.35,"y":238,"f":14.5},
{"t":"50% CAR","x":-1.2,"y":193.7,"f":14.5},
{"t":"40% CAR","x":-1.06,"y":159.3,"f":14.5},
{"t":"30% CAR","x":-1.13,"y":127.7,"f":14.5},
{"t":"20% CAR","x":-1.2,"y":89.7,"f":14.5},
{"t":"10% CAR","x":-1.13,"y":55.3,"f":14.5},
{"t":"FCConly","x":-0.92,"y":10.7,"f":14.5},
{"t":"— Typical FCC peak","x":-0.57,"y":420.5,"f":14}
],
"arrows":[
{"x":25.64,"y":16},{"x":29.53,"y":16},{"x":31.96,"y":16},{"x":-1.27,"y":422}
]
},
"layer":[
{
"data":{"name":"traces"},
"mark":{"type":"line","color":"#868686","strokeWidth":1.5,"clip":true},
"encoding":{
"x":{"field":"x","type":"quantitative","scale":{"domain":[-1.56,37.5],"nice":false,"zero":false},
"axis":{"orient":"bottom","values":[0,2.5,5,7.5,10,12.5,15,17.5,20,22.5,25,27.5,30,32.5,35,37.5],
"labelExpr":"datum.value % 5 === 0 ? datum.label : ''",
"tickSize":{"condition":{"test":"datum.value % 5 === 0","value":8},"value":4},
"tickColor":"#000","tickWidth":1.6,"domainColor":"#000","domainWidth":2,"grid":false,
"labelFont":"Liberation Sans","labelFontSize":18,"labelColor":"#000","labelPadding":8,"labelFlush":false,"labelOverlap":false,
"title":"Diff. Angle 2θ (ᵒ)","titleFont":"Liberation Sans","titleFontSize":22,"titleFontWeight":"bold","titleColor":"#000","titleY":70,"titleBaseline":"alphabetic"}},
"y":{"field":"y","type":"quantitative","scale":{"domain":[0,448],"nice":false,"zero":false},
"axis":{"orient":"left","ticks":false,"labels":false,"grid":false,"domainColor":"#000","domainWidth":2,
"title":"Intensity","titleFont":"Liberation Sans","titleFontSize":22.5,"titleFontWeight":"bold","titleColor":"#000","titleX":-23,"titleY":219,"titleAngle":-90,"titleAlign":"center","titleBaseline":"middle"}},
"detail":{"field":"s","type":"nominal"}
}
},
{
"data":{"name":"labels"},
"mark":{"type":"text","align":"left","baseline":"middle","font":"Liberation Sans","fontWeight":"bold","color":"#000"},
"encoding":{
"x":{"field":"x","type":"quantitative",
"axis":{"orient":"top","values":[2.38,6.34,10.3,14.26,18.22,22.18,26.14,30.1,34.06],"labels":false,"tickSize":-5,"tickColor":"#000","tickWidth":1.6,"domainColor":"#000","domainWidth":2,"grid":false,"title":null}},
"y":{"field":"y","type":"quantitative"},
"text":{"field":"t","type":"nominal"},
"size":{"field":"f","type":"quantitative","scale":null}
}
},
{
"data":{"name":"arrows"},
"mark":{"type":"point","shape":"M0,-1L0.42,-0.36L0.15,-0.42L0.15,1L-0.15,1L-0.15,-0.42L-0.42,-0.36Z","size":484,"filled":true,"color":"#000","opacity":1,"strokeWidth":0},
"encoding":{
"x":{"field":"x","type":"quantitative","axis":null},
"y":{"field":"y","type":"quantitative"}
}
}
],
"resolve":{"axis":{"x":"independent"}}
}
